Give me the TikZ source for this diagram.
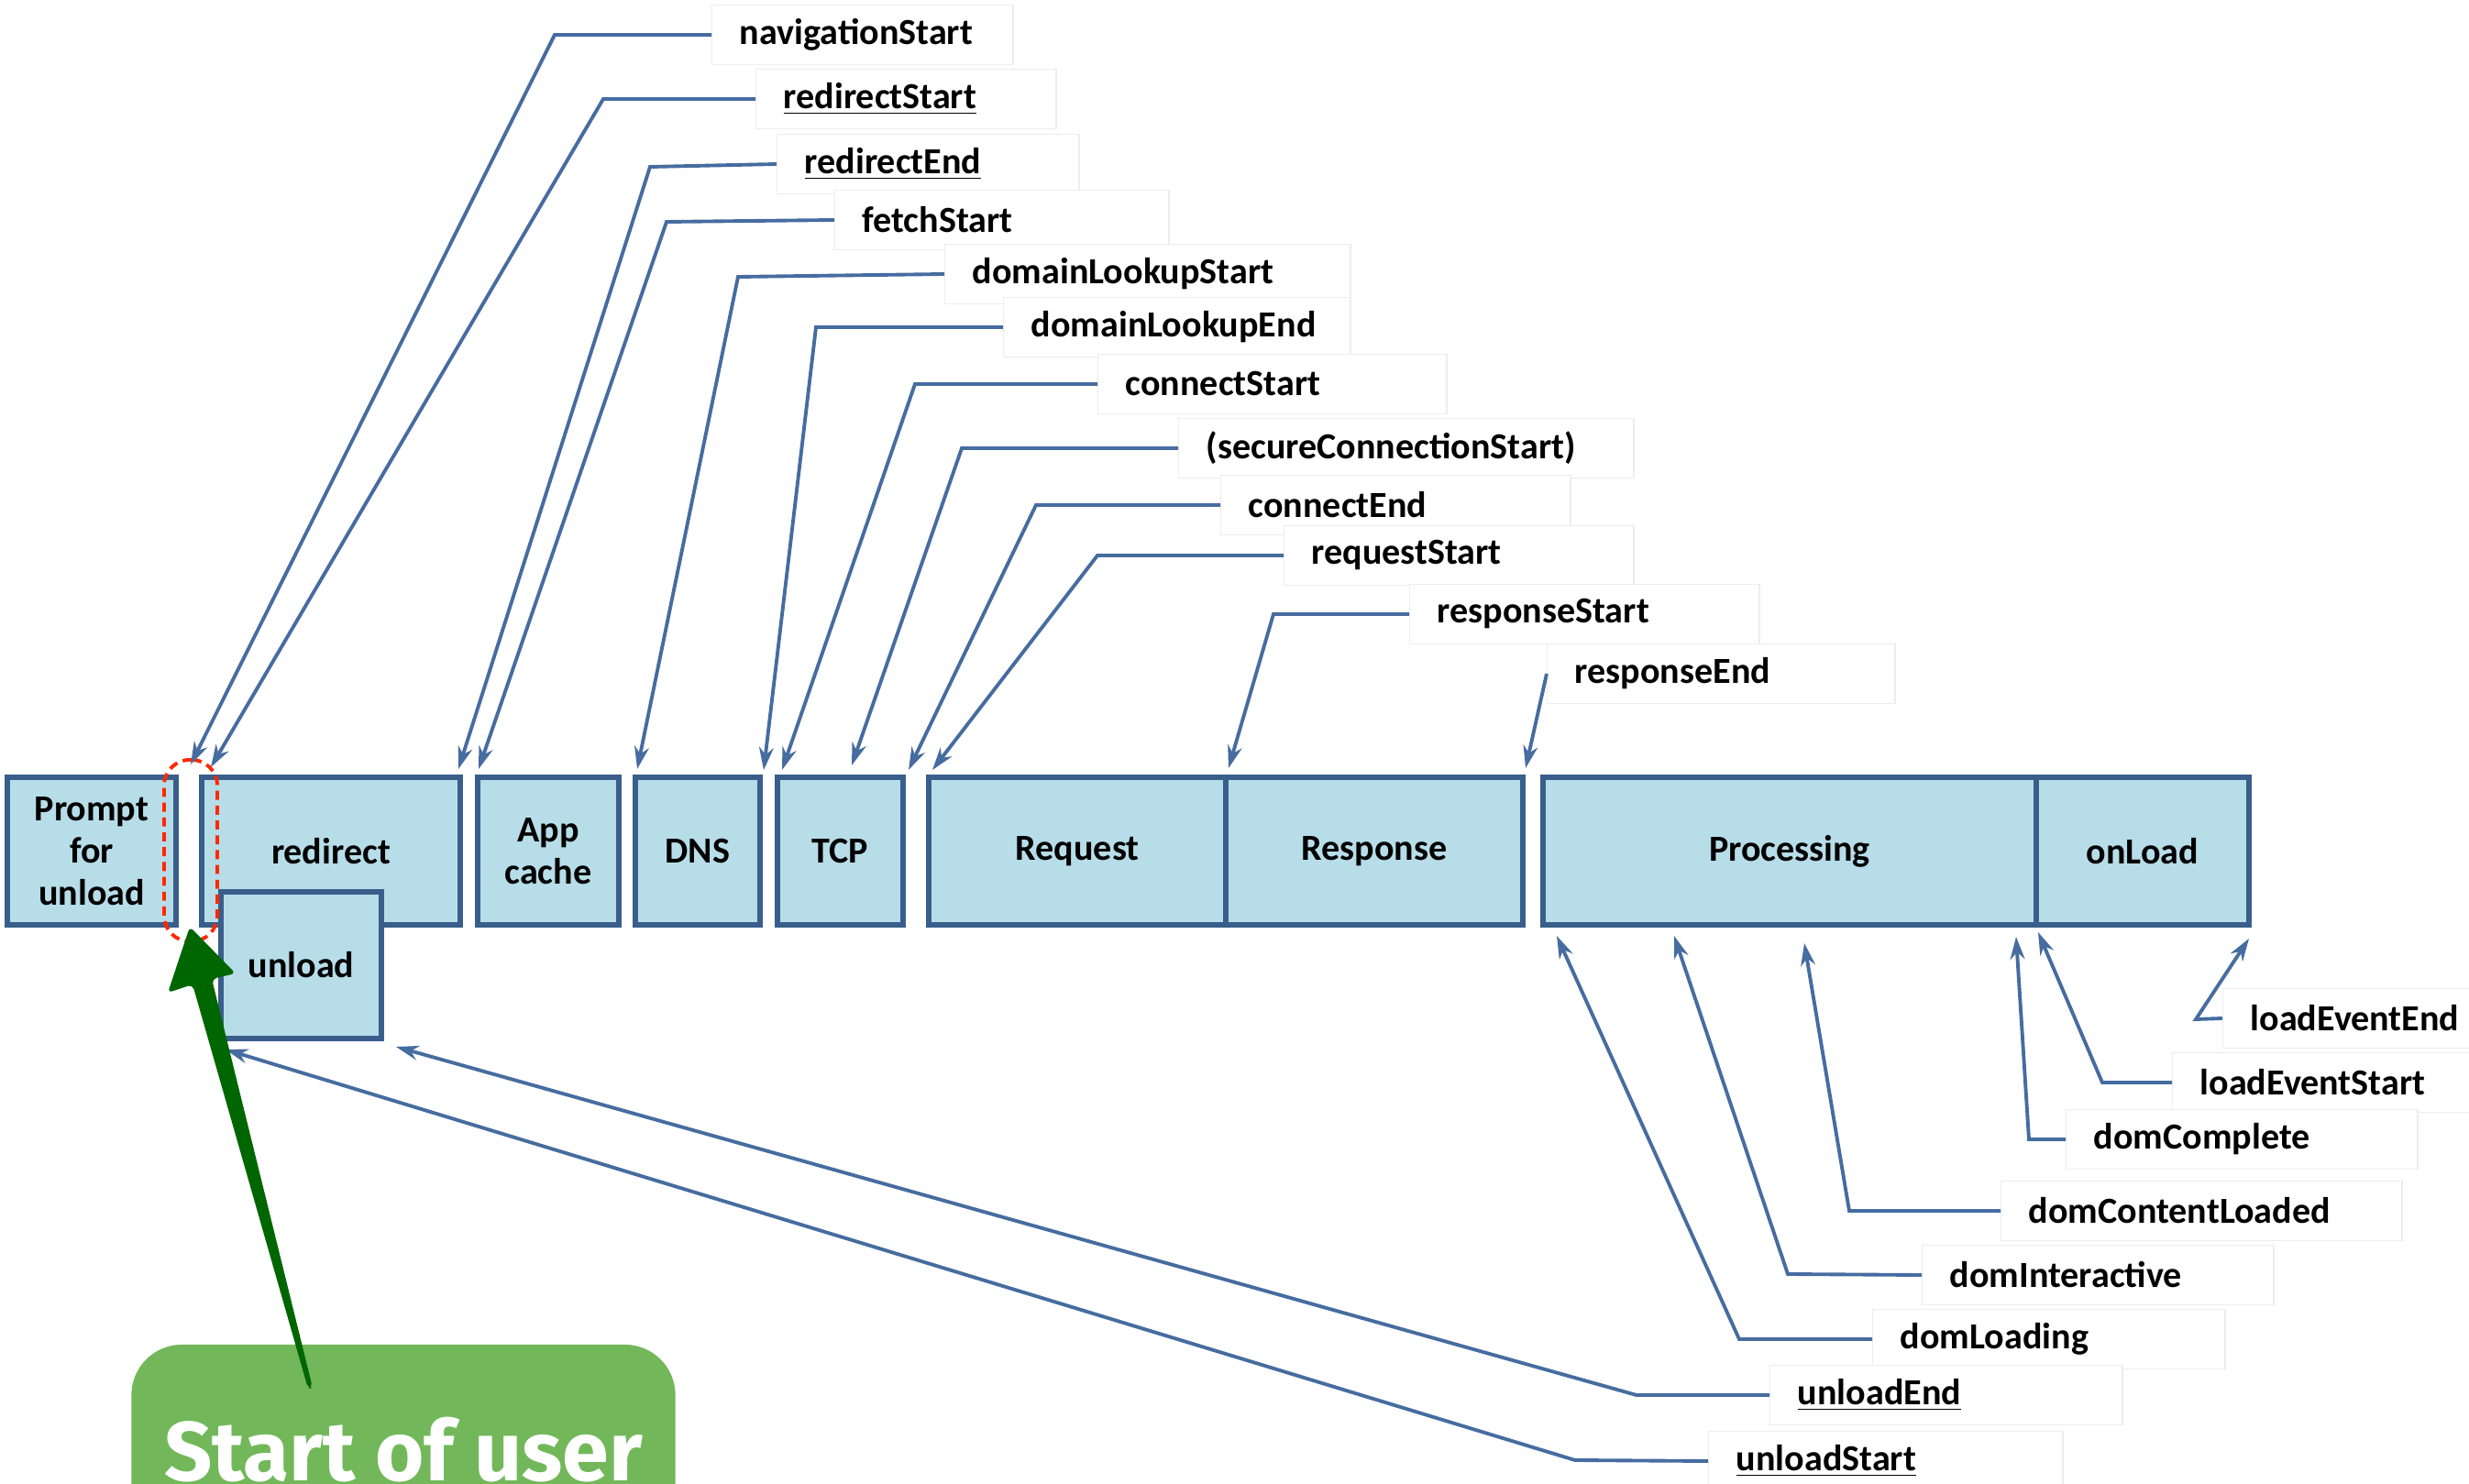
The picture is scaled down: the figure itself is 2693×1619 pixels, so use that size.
\documentclass[tikz,border=0pt]{standalone}
\usepackage{fontspec}
\setmainfont{Carlito}
\newfontfamily\calloutfont{Fira Sans}
\usetikzlibrary{arrows.meta}
\definecolor{barfill}{RGB}{183,221,232}
\definecolor{barline}{RGB}{58,94,140}
\definecolor{leader}{RGB}{70,108,160}
\definecolor{notefill}{RGB}{114,184,90}
\definecolor{notearrow}{RGB}{0,102,0}
\definecolor{gapmark}{RGB}{255,40,0}

\tikzset{
  phase/.style={draw=barline, fill=barfill, line width=1.7pt, minimum height=1.61cm,
    inner sep=0pt, align=center, font=\fontsize{11.4}{13}\selectfont\bfseries},
  evt/.style={draw=black!7, fill=white, anchor=west, minimum height=0.65cm, inner xsep=0.3cm,
    inner ysep=0pt, align=left, font=\fontsize{11.4}{13}\selectfont\bfseries},
  lead/.style={draw=leader, line width=1.1pt, -{Stealth[length=7pt,width=4.5pt]}},
  notebox/.style={fill=notefill, rounded corners=0.55cm, minimum width=5.93cm, minimum height=2.36cm,
    text height=0.61cm, text depth=0pt, text=white, font=\calloutfont\fontsize{26}{30}\selectfont\bfseries}
}

\begin{document}
\begin{tikzpicture}[x=0.01cm, y=-0.01cm]
\clip (0,0) rectangle (2693,1619);

\node[phase, minimum width=1.84cm] (prompt) at (100,928.5) {Prompt\\for\\unload};
\node[phase, minimum width=2.82cm] (redir) at (361,928.5) {redirect};
\node[phase, minimum width=1.54cm] (appc) at (598,928.5) {App\\cache};
\node[phase, minimum width=1.36cm] (dns) at (761,928.5) {DNS};
\node[phase, minimum width=1.37cm] (tcp) at (916.5,928.5) {TCP};
\node[phase, minimum width=3.24cm] (req) at (1175,928.5) {Request};
\node[phase, minimum width=3.24cm] (resp) at (1499,928.5) {Response};
\node[phase, minimum width=5.38cm] (proc) at (1952,928.5) {Processing};
\node[phase, minimum width=2.32cm] (onld) at (2337,928.5) {onLoad};
\node[phase, minimum width=1.75cm, minimum height=1.60cm] (unld) at (328.5,1053) {unload};

\node[draw=gapmark, line width=1.1pt, dash pattern=on 2.8pt off 1.8pt, rounded corners=0.28cm,
  minimum width=0.58cm, minimum height=1.98cm] (gap) at (208,928) {};

\node[evt, text width=2.68cm] (navS) at (776,38) {navigationStart};
\node[evt, text width=2.67cm] (redS) at (824,108) {\underline{redirectStart}};
\node[evt, text width=2.69cm] (redE) at (847,179) {\underline{redirectEnd}};
\node[evt, text width=3.04cm] (fetS) at (910,240) {fetchStart};
\node[evt, text width=3.82cm] (dlS) at (1030,299) {domainLookupStart};
\node[evt, text width=3.18cm] (dlE) at (1094,357) {domainLookupEnd};
\node[evt, text width=3.20cm] (conS) at (1197,419) {connectStart};
\node[evt, text width=4.36cm] (secS) at (1285,489) {(secureConnectionStart)};
\node[evt, text width=3.21cm] (conE) at (1331,551) {connectEnd};
\node[evt, text width=3.21cm] (reqS) at (1400,606) {requestStart};
\node[evt, text width=3.21cm] (resS) at (1537,670) {responseStart};
\node[evt, text width=3.19cm] (resE) at (1687,735) {responseEnd};

\node[evt, text width=2.70cm] (ldE) at (2424,1111) {loadEventEnd};
\node[evt, text width=2.70cm] (ldS) at (2369,1181) {loadEventStart};
\node[evt, text width=3.23cm] (domC) at (2253,1243) {domComplete};
\node[evt, text width=3.77cm] (domCL) at (2182,1321) {domContentLoaded};
\node[evt, text width=3.23cm] (domI) at (2096,1391) {domInteractive};
\node[evt, text width=3.24cm] (domL) at (2042,1461) {domLoading};
\node[evt, text width=3.24cm] (unlE) at (1930,1522) {\underline{unloadEnd}};
\node[evt, text width=3.26cm] (unlS) at (1863,1594) {\underline{unloadStart}};

\coordinate (tNav) at (208,834);
\coordinate (tRedS) at (230,837);
\coordinate (tRedE) at (500,839);
\coordinate (tFet) at (522,839);
\coordinate (tDlS) at (695,839);
\coordinate (tDlE) at (833,840);
\coordinate (tConS) at (853,840);
\coordinate (tSec) at (929,835);
\coordinate (tConE) at (991,840);
\coordinate (tReqS) at (1017,840);
\coordinate (tResS) at (1340,838);
\coordinate (tResE) at (1664,838);
\coordinate (tLdE) at (2453,1024);
\coordinate (tLdS) at (2223,1017);
\coordinate (tDomC) at (2199,1022);
\coordinate (tDomCL) at (1968,1029);
\coordinate (tDomI) at (1826,1021);
\coordinate (tDomL) at (1698,1021);
\coordinate (tUnlE) at (432,1142);
\coordinate (tUnlS) at (246,1145);

\draw[lead] (navS.west) -- (605,38) -- (tNav);
\draw[lead] (redS.west) -- (658,108) -- (tRedS);
\draw[lead] (redE.west) -- (709,182) -- (tRedE);
\draw[lead] (fetS.west) -- (727,242) -- (tFet);
\draw[lead] (dlS.west) -- (805,302) -- (tDlS);
\draw[lead] (dlE.west) -- (890,357) -- (tDlE);
\draw[lead] (conS.west) -- (998,419) -- (tConS);
\draw[lead] (secS.west) -- (1049,489) -- (tSec);
\draw[lead] (conE.west) -- (1130,551) -- (tConE);
\draw[lead] (reqS.west) -- (1197,606) -- (tReqS);
\draw[lead] (resS.west) -- (1389,670) -- (tResS);
\draw[lead] (resE.west) -- (tResE);

\draw[lead] (ldE.west) -- (2395,1112) -- (tLdE);
\draw[lead] (ldS.west) -- (2293,1181) -- (tLdS);
\draw[lead] (domC.west) -- (2213,1243) -- (tDomC);
\draw[lead] (domCL.west) -- (2017,1321) -- (tDomCL);
\draw[lead] (domI.west) -- (1950,1390) -- (tDomI);
\draw[lead] (domL.west) -- (1897,1461) -- (tDomL);
\draw[lead] (unlE.west) -- (1785,1522) -- (tUnlE);
\draw[lead] (unlS.west) -- (1718,1593) -- (tUnlS);

\node[notebox] (note) at (440,1585) {Start of user};
\fill[notearrow, rounded corners=1.5pt] (207,1011) -- (183,1083) -- (210,1074) -- (336,1515)
  -- (341,1514) -- (231,1068) -- (257,1062) -- cycle;
\end{tikzpicture}
\end{document}
